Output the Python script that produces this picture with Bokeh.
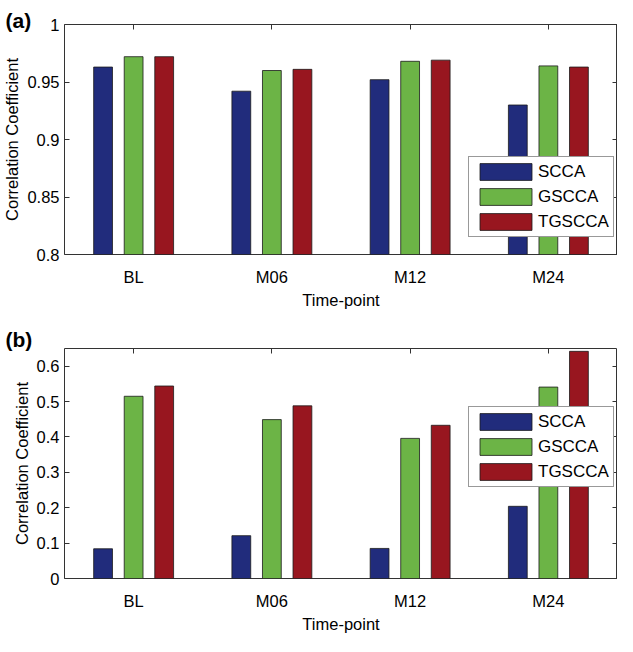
from bokeh.plotting import figure
from bokeh.models import (FactorRange, Range1d, FixedTicker, LinearAxis, CategoricalAxis,
                          Legend, LegendItem, ColumnDataSource)
from bokeh.transform import dodge
from bokeh.layouts import column
from bokeh.embed import file_html
from bokeh.resources import INLINE

# ---------------- data ----------------
timepoints = ["BL", "M06", "M12", "M24"]
methods = ["SCCA", "GSCCA", "TGSCCA"]
colors = ["#212c7c", "#6cb446", "#98161f"]

scca_a = [0.963, 0.942, 0.952, 0.930]
gscca_a = [0.972, 0.960, 0.968, 0.964]
tgscca_a = [0.972, 0.961, 0.969, 0.963]

scca_b = [0.084, 0.121, 0.085, 0.204]
gscca_b = [0.515, 0.449, 0.396, 0.541]
tgscca_b = [0.544, 0.488, 0.433, 0.642]

ylim_a = (0.8, 1.0)
yticks_a = [0.8, 0.85, 0.9, 0.95, 1.0]
ytick_labels_a = ["0.8", "0.85", "0.9", "0.95", "1"]

ylim_b = (0.0, 0.65)
yticks_b = [0.0, 0.1, 0.2, 0.3, 0.4, 0.5, 0.6]
ytick_labels_b = ["0", "0.1", "0.2", "0.3", "0.4", "0.5", "0.6"]

tags = ["(a)", "(b)"]
x_label = "Time-point"
y_label = "Correlation Coefficient"

# ---------------- style ----------------
FONT = "Liberation Sans"
FS = "16.5px"
DARK = "#333333"
OFFSETS = [-0.221, 0.0, 0.221]
BAR_W = 0.136


def make_panel(tag, series, ylim, yticks, ylabels, legend_loc, height, top, bottom, tag_standoff):
    p = figure(x_range=FactorRange(*timepoints), y_range=Range1d(*ylim),
               width=617, height=height, output_backend="svg", toolbar_location=None,
               min_border_left=59, min_border_right=0, min_border_top=top,
               min_border_bottom=bottom, x_axis_label=x_label, y_axis_label=y_label,
               title=tag)
    p.title.align = "left"
    p.title.offset = -59
    p.title.vertical_align = "bottom"
    p.title.standoff = tag_standoff
    p.title.text_font = FONT
    p.title.text_font_size = "21px"
    p.title.text_font_style = "bold"
    p.title.text_color = "black"

    p.xgrid.visible = False
    p.ygrid.visible = False
    p.outline_line_color = DARK
    p.outline_line_width = 1
    p.background_fill_color = "white"
    p.border_fill_color = "white"

    data = dict(tp=timepoints)
    for m, vals in zip(methods, series):
        data[m] = vals
    src = ColumnDataSource(data)

    items = []
    for m, off, c in zip(methods, OFFSETS, colors):
        r = p.vbar(x=dodge("tp", off, range=p.x_range), top=m, bottom=ylim[0], width=BAR_W,
                   source=src, fill_color=c, line_color="#1a1a1a", line_width=0.8)
        items.append(LegendItem(label=m, renderers=[r]))

    xa = p.xaxis[0]
    xa.axis_line_color = None
    xa.major_tick_line_color = None
    xa.minor_tick_line_color = None
    xa.major_label_standoff = 7
    xa.major_label_text_font = FONT
    xa.major_label_text_font_size = FS
    xa.major_label_text_color = "black"
    xa.axis_label_standoff = 2
    xa.axis_label_text_font = FONT
    xa.axis_label_text_font_size = FS
    xa.axis_label_text_font_style = "normal"
    xa.axis_label_text_color = "black"

    ya = p.yaxis[0]
    ya.ticker = FixedTicker(ticks=yticks)
    ya.major_label_overrides = dict(zip(yticks, ylabels))
    ya.axis_line_color = None
    ya.major_tick_in = 5
    ya.major_tick_out = 0
    ya.major_tick_line_color = DARK
    ya.minor_tick_line_color = None
    ya.major_label_standoff = 5
    ya.major_label_text_font = FONT
    ya.major_label_text_font_size = FS
    ya.major_label_text_color = "black"
    ya.axis_label_standoff = 3
    ya.axis_label_text_font = FONT
    ya.axis_label_text_font_size = FS
    ya.axis_label_text_font_style = "normal"
    ya.axis_label_text_color = "black"

    # tick-only axes on top and right (labels not drawn)
    ta = CategoricalAxis(axis_line_color=None, major_tick_in=5, major_tick_out=0,
                         major_tick_line_color=DARK, minor_tick_line_color=None,
                         major_label_text_font_size="0px", major_label_text_color=None,
                         major_label_standoff=0)
    p.add_layout(ta, "above")
    ra = LinearAxis(ticker=FixedTicker(ticks=yticks), axis_line_color=None, major_tick_in=5,
                    major_tick_out=0, major_tick_line_color=DARK, minor_tick_line_color=None,
                    major_label_text_font_size="0px", major_label_text_color=None,
                    major_label_standoff=0)
    p.add_layout(ra, "right")

    leg = Legend(items=items, location=legend_loc, glyph_width=65, glyph_height=21,
                 label_height=21, label_standoff=0, spacing=4, padding=4, margin=0,
                 label_text_font=FONT, label_text_font_size="17px", label_text_color="black",
                 border_line_color=DARK, border_line_width=1, background_fill_color="white",
                 background_fill_alpha=1.0)
    p.add_layout(leg)
    return p


pa = make_panel(tags[0], [scca_a, gscca_a, tgscca_a], ylim_a, yticks_a, ytick_labels_a,
                (404, 17), 324, 24, 70, -15)
pb = make_panel(tags[1], [scca_b, gscca_b, tgscca_b], ylim_b, yticks_b, ytick_labels_b,
                (404, 91), 312, 24, 58, -4)

layout = column(pa, pb, spacing=0)
open("out.html", "w").write(file_html(layout, INLINE))
